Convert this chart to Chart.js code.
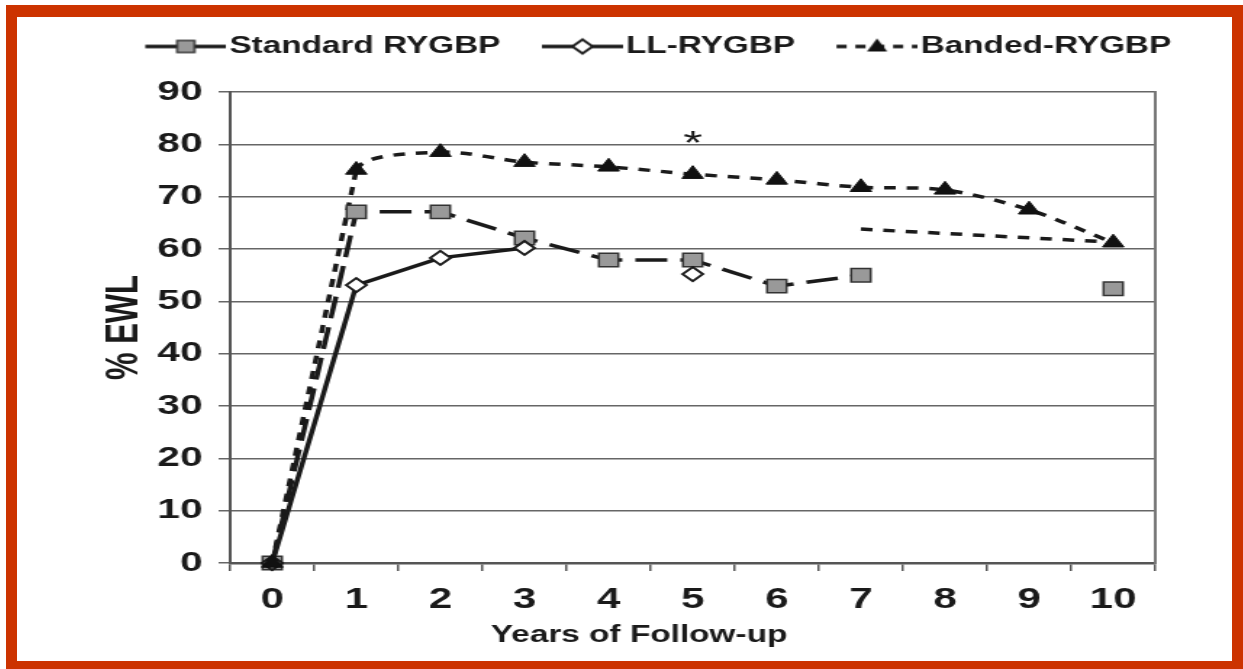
<!DOCTYPE html>
<html>
<head>
<meta charset="utf-8">
<script src="https://cdn.jsdelivr.net/npm/chart.js@4.4.1/dist/chart.umd.min.js"></script>
<style>
  html, body { margin: 0; padding: 0; background: #fff; }
  #frame {
    position: absolute; left: 6px; top: 5px;
    width: 1215px; height: 644px;
    border-style: solid; border-color: #cc3300;
    border-width: 12px 11px 8px 11px;
    overflow: hidden;
  }
  /* the original figure is stretched horizontally */
  #myChart { transform: scaleX(1.45); transform-origin: 0 0; }
</style>
</head>
<body>
<div id="frame"><canvas id="myChart" width="838" height="644"></canvas></div>
<script>
// Dataset
const years = ["0", "1", "2", "3", "4", "5", "6", "7", "8", "9", "10"];
const standardRygbp = [0, 67.1, 67.1, 62.1, 57.9, 57.9, 52.9, 55.0, null, null, 52.4];
const llRygbp = [0, 53.1, 58.3, 60.2, null, 55.2, null, null, null, null, null];
const bandedRygbp = [0, 75.1, 78.5, 76.6, 75.7, 74.3, 73.2, 71.8, 71.3, 67.5, 61.2];
const bandedTrend = [null, null, null, null, null, null, null, 63.8, null, null, 61.3];
const seriesNames = ["Standard RYGBP", "LL-RYGBP", "Banded-RYGBP"];
const xTitle = "Years of Follow-up";
const starAt = { year: "5", value: 81.8 };

const FONT = "'Liberation Sans', Arial, sans-serif";
const INK = "#1a1a1a";

// little legend samples: line + marker
function makeIcon(kind) {
  const c = document.createElement("canvas");
  c.width = 84; c.height = 24;
  const g = c.getContext("2d");
  g.strokeStyle = INK;
  g.lineWidth = 3.5;
  g.setLineDash(kind === "tri" ? [7, 6] : []);
  g.beginPath(); g.moveTo(28, 12); g.lineTo(84, 12); g.stroke();
  g.setLineDash([]);
  g.beginPath();
  if (kind === "sq") {
    g.rect(50, 6, 12, 12);
    g.fillStyle = "#999"; g.fill();
    g.lineWidth = 1.5; g.strokeStyle = "#333"; g.stroke();
  } else if (kind === "dia") {
    g.moveTo(49, 12); g.lineTo(56, 5); g.lineTo(63, 12); g.lineTo(56, 19); g.closePath();
    g.fillStyle = "#fff"; g.fill();
    g.lineWidth = 2; g.strokeStyle = INK; g.stroke();
  } else {
    g.moveTo(56, 4); g.lineTo(63, 17); g.lineTo(49, 17); g.closePath();
    g.fillStyle = "#111"; g.fill();
  }
  return c;
}
const icons = [makeIcon("sq"), makeIcon("dia"), makeIcon("tri")];

const data = {
  labels: years,
  datasets: [
    {
      label: seriesNames[0],
      data: standardRygbp,
      borderColor: INK,
      borderWidth: 3.5,
      borderDash: [22, 9],
      pointStyle: "rect",
      pointRadius: 9.5,
      pointBackgroundColor: "#999",
      pointBorderColor: "#333",
      pointBorderWidth: 1.5,
      tension: 0,
      order: 2,
      clip: false,
    },
    {
      label: seriesNames[1],
      data: llRygbp,
      borderColor: INK,
      borderWidth: 3.5,
      pointStyle: "rectRot",
      pointRadius: 7,
      pointBackgroundColor: "#fff",
      pointBorderColor: INK,
      pointBorderWidth: 2,
      tension: 0,
      order: 1,
      clip: false,
    },
    {
      // smoothed from year 1 on; the first rise is drawn straight by the next set
      label: seriesNames[2],
      data: bandedRygbp,
      borderColor: INK,
      borderWidth: 3.5,
      borderDash: [8, 7.5],
      segment: {
        borderColor: (ctx) => (ctx.p0DataIndex === 0 ? "rgba(0,0,0,0)" : INK),
      },
      pointStyle: "triangle",
      pointRadius: 8.5,
      pointBackgroundColor: "#111",
      pointBorderColor: "#111",
      pointBorderWidth: 1,
      tension: 0.3,
      order: 0,
      clip: false,
    },
    {
      label: "",
      data: bandedRygbp.map((v, i) => (i <= 1 ? v : null)),
      borderColor: INK,
      borderWidth: 3.5,
      borderDash: [8, 7.5],
      pointRadius: 0,
      tension: 0,
      order: 3,
      clip: false,
    },
    {
      label: "",
      data: bandedTrend,
      borderColor: INK,
      borderWidth: 3.5,
      borderDash: [8, 7.5],
      pointRadius: 0,
      spanGaps: true,
      order: 3,
      clip: false,
    },
  ],
};

// asterisk above year 5 and the x axis title (set left of centre, as in the figure)
const notesPlugin = {
  id: "notes",
  afterDatasetsDraw(chart) {
    const { ctx, scales } = chart;
    const x = scales.x.getPixelForValue(years.indexOf(starAt.year));
    const y = scales.y.getPixelForValue(starAt.value);
    ctx.save();
    ctx.fillStyle = INK;
    ctx.textAlign = "center";
    ctx.textBaseline = "alphabetic";
    ctx.font = "34px " + FONT;
    ctx.fillText("*", x, y + 19);
    ctx.font = "bold 23px " + FONT;
    ctx.textBaseline = "middle";
    ctx.fillText(xTitle, (scales.x.left + scales.x.right) / 2 - 37, scales.x.bottom - 25);
    ctx.restore();
  },
};

// Style Configurations
const config = {
  type: "line",
  data: data,
  options: {
    responsive: false,
    animation: false,
    layout: { padding: { left: 28, right: 0, top: 8, bottom: 0 } },
    plugins: {
      legend: {
        position: "top",
        labels: {
          usePointStyle: true,
          pointStyleWidth: 65,
          padding: 10,
          color: INK,
          font: { family: FONT, size: 23, weight: "bold" },
          generateLabels: (chart) =>
            seriesNames.map((name, i) => ({
              text: name,
              pointStyle: icons[i],
              fillStyle: "#000",
              strokeStyle: "#000",
              lineWidth: 0,
              hidden: false,
              datasetIndex: i,
              fontColor: INK,
            })),
        },
        onClick: () => {},
      },
      tooltip: { enabled: false },
    },
    scales: {
      x: {
        type: "category",
        offset: true,
        grid: {
          offset: true,
          drawOnChartArea: false,
          drawTicks: true,
          tickLength: 8,
          color: "#555",
          lineWidth: 1.5,
        },
        border: { display: true, color: "#555", width: 2.5 },
        ticks: {
          color: INK,
          padding: 12,
          font: { family: FONT, size: 29, weight: "bold" },
        },
        afterFit: (s) => { s.height = 98; },
      },
      x2: {
        type: "category",
        position: "top",
        grid: { display: false },
        border: { display: false },
        ticks: { display: false },
        afterFit: (s) => { s.height = 24; },
      },
      y: {
        min: 0,
        max: 90,
        ticks: {
          stepSize: 10,
          color: INK,
          padding: 11,
          font: { family: FONT, size: 28, weight: "bold" },
        },
        grid: { color: "#666", lineWidth: 1.5, tickLength: 8 },
        border: { display: true, color: "#555", width: 2 },
        title: {
          display: true,
          text: "% EWL",
          color: INK,
          padding: { top: 28, bottom: 0 },
          font: { family: FONT, size: 31, weight: "bold" },
        },
        afterFit: (s) => { s.width = 119; },
      },
      y2: {
        position: "right",
        min: 0,
        max: 90,
        ticks: { display: false },
        grid: { drawOnChartArea: false, drawTicks: false },
        border: { display: true, color: "#777", width: 2 },
        afterFit: (s) => { s.width = 53; },
      },
    },
  },
  plugins: [notesPlugin],
};

// Plotting
let myChart = document.getElementById("myChart").getContext("2d");
let emwlChart = new Chart(myChart, config);
</script>
</body>
</html>
